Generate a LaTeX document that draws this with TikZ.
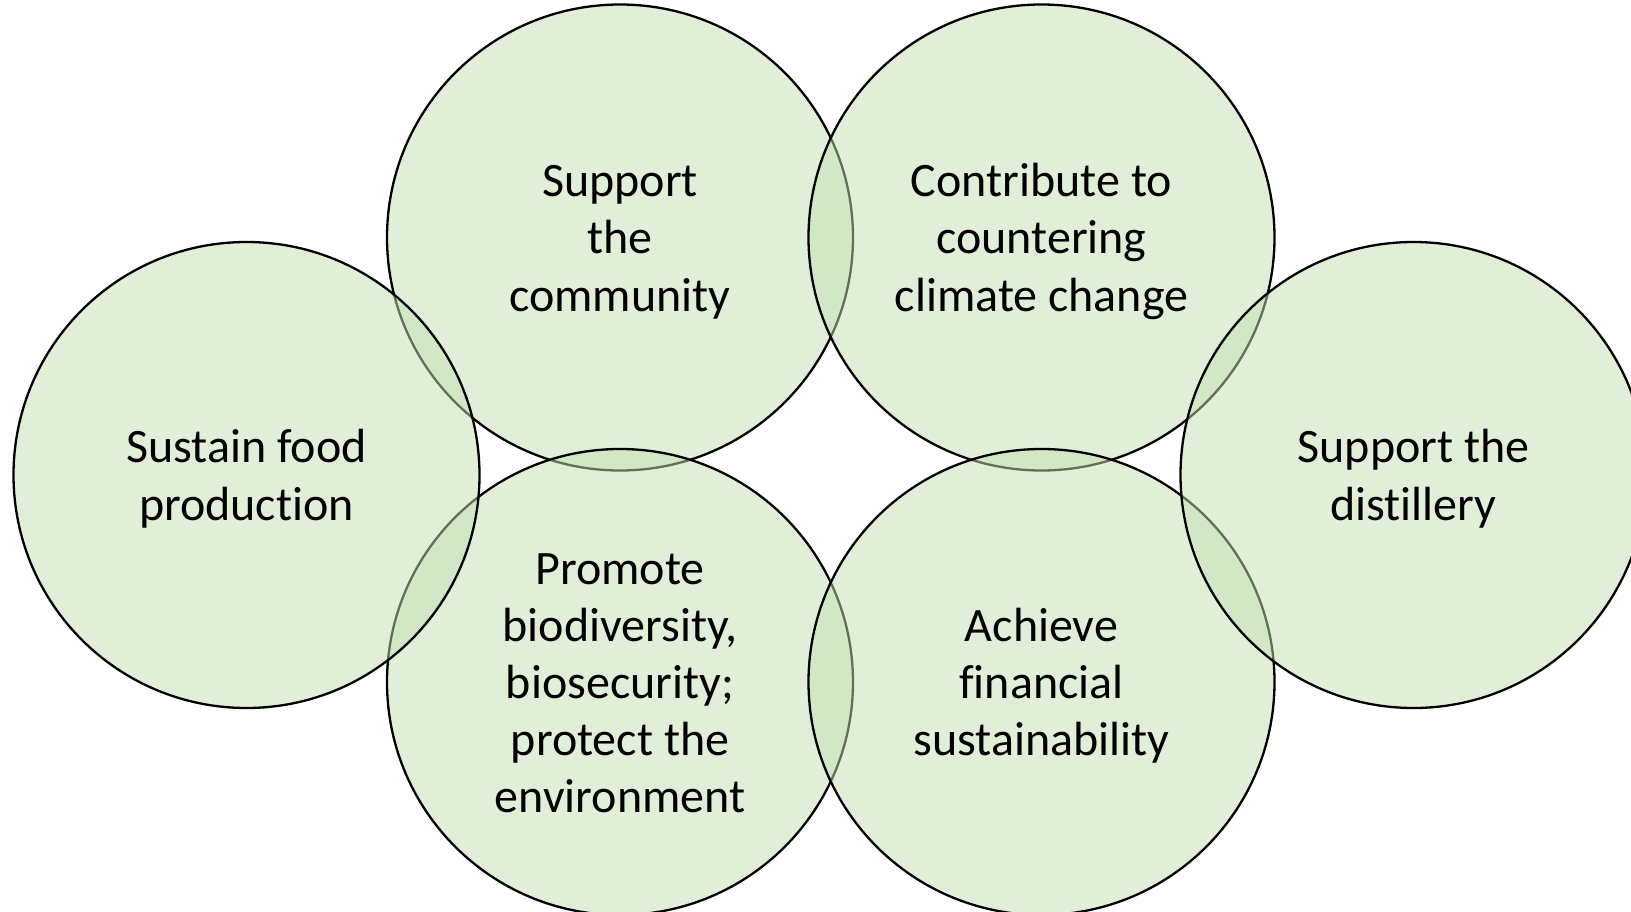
\documentclass[tikz,border=0pt]{standalone}
\usepackage{fontspec}
\setmainfont[Ligatures=NoCommon]{Carlito}
\definecolor{vennfill}{HTML}{C5E0B4}
\newcommand{\topstr}{\rule{0pt}{50pt}}
\tikzset{
  venn/.style={circle, draw=black, line width=2.3pt, fill=vennfill, fill opacity=0.5,
    text opacity=1, minimum size=466pt, inner sep=0pt, align=center,
    font=\fontsize{48}{57.2}\selectfont}
}
\begin{document}
\begin{tikzpicture}[x=1pt,y=-1pt]
\clip (0,0) rectangle (1631,912);
\fill[white] (0,0) rectangle (1631,912);
\node[venn] (c2) at (620,237.5) {\topstr Support\\the\\community\strut};
\node[venn] (c3) at (1041.5,237.5) {\topstr Contribute to\\countering\\climate change\strut};
\node[venn] (c5) at (620,682) {\topstr Promote\\biodiversity,\\biosecurity;\\protect the\\environment\strut};
\node[venn] (c6) at (1041.5,682) {\topstr Achieve\\financial\\sustainability\strut};
\node[venn] (c1) at (246.5,475) {\topstr Sustain food\\production\strut};
\node[venn] (c4) at (1413.5,475) {\topstr Support the\\distillery\strut};
\end{tikzpicture}
\end{document}
